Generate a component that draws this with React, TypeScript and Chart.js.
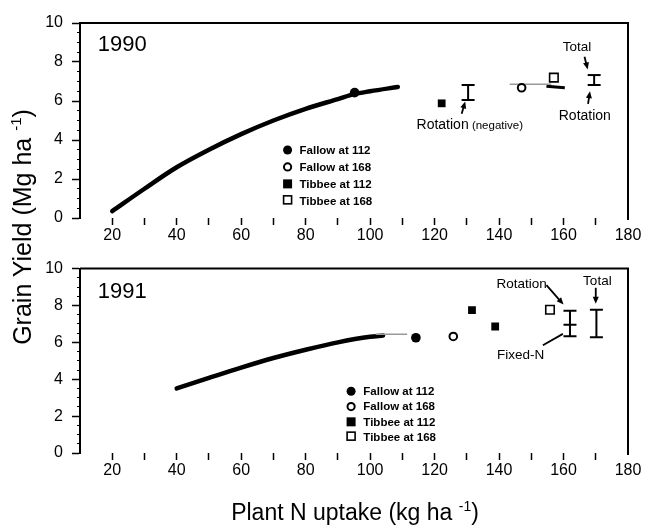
import React, { useEffect, useRef } from "react";
import { Chart, registerables } from "chart.js";

Chart.register(...registerables);

const FONT = 'Arial, "Liberation Sans", Helvetica, sans-serif';

// ---------- shared axis data ----------
const xMin = 10;
const xMax = 180;
const yMin = 0;
const yMax = 10;
const xLabelStep = 20;
const yLabelStep = 2;

const legendLabels = ["Fallow at 112", "Fallow at 168", "Tibbee at 112", "Tibbee at 168"];

// ---------- 1990 ----------
const curve1990X = [20, 30, 40, 50, 60, 70, 80, 90, 95, 100, 108.6];
const curve1990Y = [0.35, 1.5, 2.6, 3.5, 4.3, 5.0, 5.6, 6.1, 6.35, 6.5, 6.72];
const gray1990X = [143.3, 156.2];
const gray1990Y = [6.86, 6.86];
const wedge1990X = [154.7, 160.4];
const wedge1990Y = [6.76, 6.68];
const fallow112_1990 = [{ x: 95.2, y: 6.43 }];
const fallow168_1990 = [{ x: 147, y: 6.68 }];
const tibbee112_1990 = [{ x: 122.2, y: 5.88 }];
const tibbee168_1990 = [{ x: 157, y: 7.2 }];
const errorBars1990 = [
  { x: 130.4, caps: [6.05, 6.82] },
  { x: 169.5, caps: [6.82, 7.33] },
];

// ---------- 1991 ----------
const curve1991X = [40, 50, 60, 70, 80, 90, 100, 104];
const curve1991Y = [3.5, 4.07, 4.63, 5.15, 5.6, 6.0, 6.3, 6.37];
const gray1991X = [101.7, 111.5];
const gray1991Y = [6.44, 6.44];
const fallow112_1991 = [{ x: 114.2, y: 6.25 }];
const fallow168_1991 = [{ x: 125.8, y: 6.32 }];
const tibbee112_1991 = [
  { x: 131.6, y: 7.75 },
  { x: 138.8, y: 6.86 },
];
const tibbee168_1991 = [{ x: 155.8, y: 7.77 }];
const errorBars1991 = [
  { x: 162, caps: [6.33, 6.95, 7.72] },
  { x: 170.2, caps: [6.28, 7.77] },
];

// ---------- annotations (data coordinates) ----------
const notes1990 = {
  year: "1990",
  yearAt: { x: 15.5, y: 8.87 },
  texts: [
    { parts: [{ t: "Total", s: 13.5 }], x: 164.2, y: 8.78, align: "center" },
    { parts: [{ t: "Rotation", s: 14 }], x: 166.6, y: 5.23, align: "center" },
    { parts: [{ t: "Rotation", s: 14 }, { t: " (negative)", s: 11.5 }], x: 114.4, y: 4.75, align: "left" },
  ],
  arrows: [
    { from: { x: 166.5, y: 8.27 }, to: { x: 167.5, y: 7.62 }, head: true },
    { from: { x: 167.6, y: 5.85 }, to: { x: 168.2, y: 6.5 }, head: true },
    { from: { x: 128.4, y: 5.35 }, to: { x: 129.5, y: 5.98 }, head: true },
  ],
  legendAt: { x: 74.4, y: 3.49, textX: 78.1, dy: 0.87 },
};

const notes1991 = {
  year: "1991",
  yearAt: { x: 15.5, y: 8.71 },
  texts: [
    { parts: [{ t: "Rotation", s: 13.5 }], x: 147, y: 9.16, align: "center" },
    { parts: [{ t: "Total", s: 13.5 }], x: 170.5, y: 9.32, align: "center" },
    { parts: [{ t: "Fixed-N", s: 13.5 }], x: 146.7, y: 5.32, align: "center" },
  ],
  arrows: [
    { from: { x: 154.7, y: 9.1 }, to: { x: 160, y: 8.05 }, head: true },
    { from: { x: 170, y: 8.96 }, to: { x: 170, y: 8.1 }, head: true },
    { from: { x: 153.6, y: 5.84 }, to: { x: 159.8, y: 6.46 }, head: false },
  ],
  legendAt: { x: 94.1, y: 3.35, textX: 97.9, dy: 0.83 },
};

// ---------- helpers ----------
const pairs = (xs: number[], ys: number[]) => xs.map((x, i) => ({ x, y: ys[i] }));

function drawLegendMarker(ctx: CanvasRenderingContext2D, kind: number, x: number, y: number) {
  ctx.save();
  ctx.fillStyle = "#000";
  ctx.strokeStyle = "#000";
  if (kind === 0) {
    ctx.beginPath();
    ctx.arc(x, y, 4.5, 0, Math.PI * 2);
    ctx.fill();
  } else if (kind === 1) {
    ctx.lineWidth = 2;
    ctx.beginPath();
    ctx.arc(x, y, 3.6, 0, Math.PI * 2);
    ctx.stroke();
  } else if (kind === 2) {
    ctx.fillRect(x - 4.5, y - 4.5, 9, 9);
  } else {
    ctx.lineWidth = 1.6;
    ctx.strokeRect(x - 4, y - 5, 8, 8);
  }
  ctx.restore();
}

function makeNotesPlugin(key: string, notes: any) {
  return {
    id: "notes" + key,
    afterDraw(chart: any) {
      const { ctx, chartArea: a } = chart;
      const xs = chart.scales.x;
      const ys = chart.scales.y;
      const px = (v: number) => xs.getPixelForValue(v);
      const py = (v: number) => ys.getPixelForValue(v);
      ctx.save();
      // frame: top and right lines
      ctx.strokeStyle = "#000";
      ctx.lineWidth = 2;
      ctx.beginPath();
      ctx.moveTo(a.left, a.top);
      ctx.lineTo(a.right, a.top);
      ctx.lineTo(a.right, a.bottom + 2);
      ctx.stroke();

      ctx.fillStyle = "#000";
      ctx.textBaseline = "middle";
      // year label
      ctx.textAlign = "left";
      ctx.font = `22px ${FONT}`;
      ctx.fillText(notes.year, px(notes.yearAt.x), py(notes.yearAt.y));

      // texts
      for (const t of notes.texts) {
        let total = 0;
        const widths: number[] = [];
        for (const p of t.parts) {
          ctx.font = `${p.s}px ${FONT}`;
          const w = ctx.measureText(p.t).width;
          widths.push(w);
          total += w;
        }
        let cx = px(t.x);
        if (t.align === "center") cx -= total / 2;
        const cy = py(t.y);
        t.parts.forEach((p: any, i: number) => {
          ctx.font = `${p.s}px ${FONT}`;
          ctx.textAlign = "left";
          ctx.fillText(p.t, cx, cy);
          cx += widths[i];
        });
      }

      // arrows
      ctx.lineWidth = 1.8;
      for (const ar of notes.arrows) {
        const x1 = px(ar.from.x), y1 = py(ar.from.y);
        const x2 = px(ar.to.x), y2 = py(ar.to.y);
        const ang = Math.atan2(y2 - y1, x2 - x1);
        const hl = ar.head ? 7 : 0;
        ctx.beginPath();
        ctx.moveTo(x1, y1);
        ctx.lineTo(x2 - Math.cos(ang) * hl * 0.8, y2 - Math.sin(ang) * hl * 0.8);
        ctx.stroke();
        if (ar.head) {
          ctx.beginPath();
          ctx.moveTo(x2, y2);
          ctx.lineTo(x2 - hl * Math.cos(ang) + 3 * Math.sin(ang), y2 - hl * Math.sin(ang) - 3 * Math.cos(ang));
          ctx.lineTo(x2 - hl * Math.cos(ang) - 3 * Math.sin(ang), y2 - hl * Math.sin(ang) + 3 * Math.cos(ang));
          ctx.closePath();
          ctx.fill();
        }
      }

      // legend
      const L = notes.legendAt;
      ctx.font = `bold 11.5px ${FONT}`;
      ctx.textAlign = "left";
      legendLabels.forEach((lab, i) => {
        const yy = py(L.y - i * L.dy);
        drawLegendMarker(ctx, i, px(L.x), yy);
        ctx.fillText(lab, px(L.textX), yy + 0.5);
      });
      ctx.restore();
    },
  };
}

function buildOptions(canvasH: number, areaTop: number, areaBottom: number, padBottom: number) {
  return {
    responsive: false,
    animation: false as const,
    events: [],
    layout: { padding: { left: 0, right: 646 - 628, top: areaTop, bottom: padBottom } },
    plugins: { legend: { display: false }, tooltip: { enabled: false } },
    scales: {
      x: {
        type: "linear" as const,
        min: xMin,
        max: xMax,
        afterFit: (s: any) => {
          s.height = canvasH - areaBottom - padBottom;
        },
        border: { display: false },
        grid: {
          drawOnChartArea: false,
          drawTicks: true,
          tickLength: 7,
          tickWidth: 1.5,
          tickColor: (c: any) => (c.tick && (c.tick.value === xMin || c.tick.value === xMax) ? "rgba(0,0,0,0)" : "#000"),
        },
        ticks: {
          stepSize: 10,
          autoSkip: false,
          maxRotation: 0,
          padding: 1,
          color: "#000",
          font: { family: FONT, size: 16 },
          callback: (v: any) => (Number(v) % xLabelStep === 0 ? String(v) : ""),
        },
      },
      y: {
        type: "linear" as const,
        position: "left" as const,
        weight: 1,
        min: yMin,
        max: yMax,
        afterFit: (s: any) => {
          s.width = 80;
        },
        border: { display: true, color: "#000", width: 2 },
        grid: { drawOnChartArea: false, drawTicks: true, tickLength: 8, tickWidth: 1.5, tickColor: "#000" },
        ticks: {
          stepSize: yLabelStep,
          padding: 9,
          color: "#000",
          font: { family: FONT, size: 16 },
        },
      },
      yMinor: {
        type: "linear" as const,
        position: "left" as const,
        weight: 0,
        min: yMin,
        max: yMax,
        afterFit: (s: any) => {
          s.width = 0;
        },
        border: { display: false },
        grid: { drawOnChartArea: false, drawTicks: true, tickLength: 3, tickWidth: 1, tickColor: "#000" },
        ticks: { stepSize: 0.5, display: false },
      },
    },
  };
}

function buildDatasets(p: any) {
  const ds: any[] = [];
  ds.push({
    data: pairs(p.curveX, p.curveY),
    showLine: true,
    borderColor: "#000",
    borderWidth: 4.5,
    borderCapStyle: "round",
    cubicInterpolationMode: "monotone",
    pointRadius: 0,
    order: 10,
  });
  ds.push({
    data: pairs(p.grayX, p.grayY),
    showLine: true,
    borderColor: "#9a9a9a",
    borderWidth: 1.5,
    pointRadius: 0,
    order: 9,
  });
  if (p.wedgeX) {
    ds.push({
      data: pairs(p.wedgeX, p.wedgeY),
      showLine: true,
      borderColor: "#000",
      borderWidth: 3,
      pointRadius: 0,
      order: 9,
    });
  }
  ds.push({ data: p.f112, pointStyle: "circle", pointRadius: 4.8, backgroundColor: "#000", borderColor: "#000", borderWidth: 0, order: 1 });
  ds.push({ data: p.f168, pointStyle: "circle", pointRadius: 3.8, backgroundColor: "#fff", borderColor: "#000", borderWidth: 2, order: 1 });
  ds.push({ data: p.t112, pointStyle: "rect", pointRadius: 5.5, backgroundColor: "#000", borderColor: "#000", borderWidth: 0, order: 1 });
  ds.push({ data: p.t168, pointStyle: "rect", pointRadius: 6, backgroundColor: "#fff", borderColor: "#000", borderWidth: 1.6, order: 1 });
  for (const eb of p.errorBars) {
    ds.push({
      data: eb.caps.map((c: number) => ({ x: eb.x, y: c })),
      showLine: true,
      borderColor: "#000",
      borderWidth: 2,
      pointStyle: "line",
      pointRadius: 6.5,
      pointBorderWidth: 2,
      pointBorderColor: "#000",
      order: 2,
    });
  }
  return ds;
}

function Panel(props: { width: number; height: number; top: number; areaTop: number; areaBottom: number; padBottom: number; data: any; notes: any; id: string }) {
  const ref = useRef<HTMLCanvasElement>(null);
  useEffect(() => {
    if (!ref.current) return;
    const chart = new Chart(ref.current, {
      type: "scatter",
      data: { datasets: buildDatasets(props.data) },
      options: buildOptions(props.height, props.areaTop, props.areaBottom, props.padBottom) as any,
      plugins: [makeNotesPlugin(props.id, props.notes)],
    });
    return () => chart.destroy();
  }, []);
  return (
    <canvas
      ref={ref}
      width={props.width}
      height={props.height}
      style={{ position: "absolute", left: 0, top: props.top, width: props.width, height: props.height }}
    />
  );
}

export default function App() {
  const d1990 = {
    curveX: curve1990X, curveY: curve1990Y,
    grayX: gray1990X, grayY: gray1990Y,
    wedgeX: wedge1990X, wedgeY: wedge1990Y,
    f112: fallow112_1990, f168: fallow168_1990,
    t112: tibbee112_1990, t168: tibbee168_1990,
    errorBars: errorBars1990,
  };
  const d1991 = {
    curveX: curve1991X, curveY: curve1991Y,
    grayX: gray1991X, grayY: gray1991Y,
    f112: fallow112_1991, f168: fallow168_1991,
    t112: tibbee112_1991, t168: tibbee168_1991,
    errorBars: errorBars1991,
  };
  return (
    <div style={{ position: "absolute", left: 0, top: 0, width: 646, height: 525, background: "#fff", overflow: "hidden", fontFamily: FONT }}>
      <Panel id="a" width={646} height={250} top={0} areaTop={23} areaBottom={218} padBottom={0} data={d1990} notes={notes1990} />
      <Panel id="b" width={646} height={275} top={250} areaTop={13} areaBottom={203} padBottom={40} data={d1991} notes={notes1991} />
      <div
        style={{
          position: "absolute",
          left: 22 - 160,
          top: 227 - 15,
          width: 320,
          height: 30,
          lineHeight: "30px",
          textAlign: "center",
          fontSize: 25,
          color: "#000",
          transform: "rotate(-90deg)",
          whiteSpace: "nowrap",
        }}
      >
        Grain Yield (Mg ha <span style={{ fontSize: 15, position: "relative", top: -10 }}>-1</span>)
      </div>
      <div
        style={{
          position: "absolute",
          left: 355 - 200,
          top: 512 - 15,
          width: 400,
          height: 30,
          lineHeight: "30px",
          textAlign: "center",
          fontSize: 23,
          color: "#000",
          whiteSpace: "nowrap",
        }}
      >
        Plant N uptake (kg ha <span style={{ fontSize: 14, position: "relative", top: -9 }}>-1</span>)
      </div>
    </div>
  );
}
